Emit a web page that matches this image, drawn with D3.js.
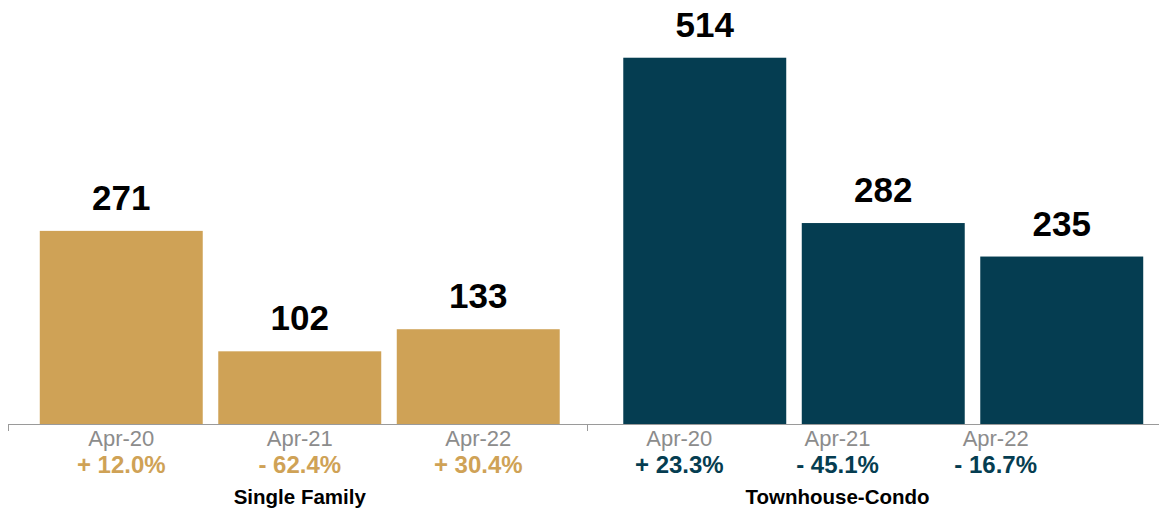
<!DOCTYPE html>
<html>
<head>
<meta charset="utf-8">
<script src="https://cdn.jsdelivr.net/npm/d3@7"></script>
<style>
	body { margin: 0; background: #fff; }
	text { font-family: "Liberation Sans", Arial, Helvetica, sans-serif; }
</style>
</head>
<body>
<div id="chart"></div>
<script>

// data
var groups = ["Single Family", "Townhouse-Condo"];
var months = ["Apr-20", "Apr-21", "Apr-22"];
var singleFamily = [271, 102, 133];
var townhouseCondo = [514, 282, 235];
var changeSingleFamily = ["+ 12.0%", "- 62.4%", "+ 30.4%"];
var changeTownhouseCondo = ["+ 23.3%", "- 45.1%", "- 16.7%"];
var groupColors = ["#cfa256", "#053d51"];

var values = [singleFamily, townhouseCondo];
var changes = [changeSingleFamily, changeTownhouseCondo];

// sizes
var width = 1159,
	height = 511,
	axisLeft = 8,
	groupWidth = 583.5,
	labelRight = 1096,
	labelShift = 12.5,
	baseline = 424,
	yMax = 595;

var svg = d3.select("#chart")
	.append("svg")
	.attr("width", width)
	.attr("height", height);

// scales
var x0 = d3.scaleBand()
	.domain(groups)
	.range([axisLeft, axisLeft + groupWidth * groups.length]);

var x1 = d3.scaleBand()
	.domain(months)
	.range([0, x0.bandwidth()])
	.paddingInner(0.087)
	.paddingOuter(0.178);

var y = d3.scaleLinear()
	.domain([0, yMax])
	.range([baseline, 0]);

// label scale per group, the last (cut off) group has its labels squeezed before labelRight
function labelScale(g){

	var start = x0(g),
		end = start + x0.bandwidth();
	if (end > labelRight){
		end = labelRight;
		start = start - labelShift;
	}
	return d3.scaleBand()
		.domain(months)
		.range([start, end])
		.paddingInner(0.087)
		.paddingOuter(0.178);
}

// one data row per bar
var rows = [];
groups.forEach(function(g, gi){

	months.forEach(function(m, mi){

		rows.push({group: g, gi: gi, month: m, value: values[gi][mi], change: changes[gi][mi]});
	});
});

// bars
svg.append("g")
	.selectAll("rect")
	.data(rows)
	.enter()
	.append("rect")
	.attr("x", function(d){ return x0(d.group) + x1(d.month); })
	.attr("y", function(d){ return y(d.value); })
	.attr("width", x1.bandwidth())
	.attr("height", function(d){ return y(0) - y(d.value); })
	.attr("fill", function(d){ return groupColors[d.gi]; });

// value labels
svg.append("g")
	.selectAll("text")
	.data(rows)
	.enter()
	.append("text")
	.attr("x", function(d){ return x0(d.group) + x1(d.month) + x1.bandwidth() / 2; })
	.attr("y", function(d){ return y(d.value) - 21; })
	.attr("text-anchor", "middle")
	.attr("font-size", "35px")
	.attr("font-weight", "bold")
	.attr("fill", "#000")
	.text(function(d){ return d.value; });

// axis line and group separators
var axis = svg.append("g");

axis.append("line")
	.attr("x1", axisLeft)
	.attr("x2", width)
	.attr("y1", baseline + 0.5)
	.attr("y2", baseline + 0.5)
	.attr("stroke", "#9a9a9a")
	.attr("stroke-width", 1);

axis.selectAll(".sep")
	.data(groups)
	.enter()
	.append("line")
	.attr("class", "sep")
	.attr("x1", function(d, i){ return i === 0 ? axisLeft + 0.5 : x0(d) - 4; })
	.attr("x2", function(d, i){ return i === 0 ? axisLeft + 0.5 : x0(d) - 4; })
	.attr("y1", baseline)
	.attr("y2", baseline + 7)
	.attr("stroke", "#9a9a9a")
	.attr("stroke-width", 1);

// month and change labels
rows.forEach(function(d){

	var ls = labelScale(d.group),
		cx = ls(d.month) + ls.bandwidth() / 2;

	svg.append("text")
		.attr("x", cx)
		.attr("y", 446)
		.attr("text-anchor", "middle")
		.attr("font-size", "22px")
		.attr("fill", "#8c8c8c")
		.text(d.month);

	svg.append("text")
		.attr("x", cx)
		.attr("y", 473)
		.attr("text-anchor", "middle")
		.attr("font-size", "24px")
		.attr("font-weight", "bold")
		.attr("fill", groupColors[d.gi])
		.text(d.change);
});

// group labels
svg.append("g")
	.selectAll("text")
	.data(groups)
	.enter()
	.append("text")
	.attr("x", function(g){

		var ls = labelScale(g);
		return (ls.range()[0] + ls.range()[1]) / 2;
	})
	.attr("y", 504)
	.attr("text-anchor", "middle")
	.attr("font-size", "20.5px")
	.attr("font-weight", "bold")
	.attr("fill", "#000")
	.text(function(g){ return g; });

</script>
</body>
</html>
